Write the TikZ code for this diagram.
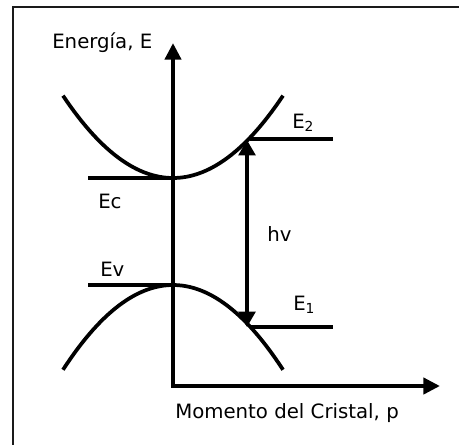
\documentclass[tikz,border=0pt]{standalone}
\usepackage{fontspec}
\setmainfont{DejaVu Sans}
\usetikzlibrary{arrows.meta, positioning, calc}
\definecolor{inkline}{HTML}{000000}
\definecolor{framegray}{HTML}{1A1A1A}
\tikzset{
  axisline/.style={{Triangle[length=12.5pt, width=12pt]}-{Triangle[length=12.5pt, width=12pt]},
                   line width=3.2pt, draw=inkline, line join=miter},
  band/.style={line width=2.8pt, draw=inkline},
  level/.style={line width=2.3pt, draw=inkline},
  photon/.style={{Triangle[length=11.5pt, width=12.5pt]}-{Triangle[length=11.5pt, width=12.5pt]},
                 line width=2.6pt, draw=inkline},
  lbl/.style={font=\fontsize{14.8}{17}\selectfont, inner sep=0pt, text=inkline},
  panel/.style={line width=1.5pt, draw=framegray},
}
\def\acb{0.0068}
\def\avb{0.0070}

\begin{document}
\begin{tikzpicture}[x=0.75pt, y=-0.75pt]

% Page and frame
\useasboundingbox (0,0) rectangle (459,444);
\clip (0,0) rectangle (459,444);
\draw[panel] (13,7) rectangle (480,470);

% Axes
\coordinate (origin) at (173,386);
\coordinate (ytop) at (173,43);
\coordinate (xend) at (440,386);
\draw[axisline] (ytop) -- (origin) -- (xend);
\node[lbl, anchor=base west] (elabel) at (52,48) {Energía, E};
\node[lbl, anchor=base west] (plabel) at (175,418) {Momento del Cristal, p};

% Bands
\draw[band] plot[domain=-110:110, samples=60, variable=\t] ({173+\t}, {178-\acb*\t*\t});
\draw[band] plot[domain=-110:110, samples=60, variable=\t] ({173+\t}, {285+\avb*\t*\t});

% Band edges
\coordinate (ecl) at (88,178);
\coordinate (ecr) at (173,178);
\coordinate (evl) at (88,285);
\coordinate (evr) at (173,285);
\draw[level] (ecl) -- (ecr);
\draw[level] (evl) -- (evr);
\node[lbl, anchor=base west] (ec) at (98,208) {Ec};
\node[lbl, anchor=base west] (ev) at (100,276) {Ev};

% Transition levels
\coordinate (e2a) at (250,139);
\coordinate (e2b) at (333,139);
\coordinate (e1a) at (250,327);
\coordinate (e1b) at (333,327);
\draw[level] (e2a) -- (e2b);
\draw[level] (e1a) -- (e1b);
\node[lbl, anchor=base west] (e2) at (292,128) {E\textsubscript{2}};
\node[lbl, anchor=base west] (e1) at (293,310) {E\textsubscript{1}};

% Photon
\coordinate (ptop) at (247,140);
\coordinate (pbot) at (247,327);
\draw[photon] (pbot) -- (ptop);
\node[lbl, anchor=base west] (hv) at (267,241) {hv};

\end{tikzpicture}
\end{document}
